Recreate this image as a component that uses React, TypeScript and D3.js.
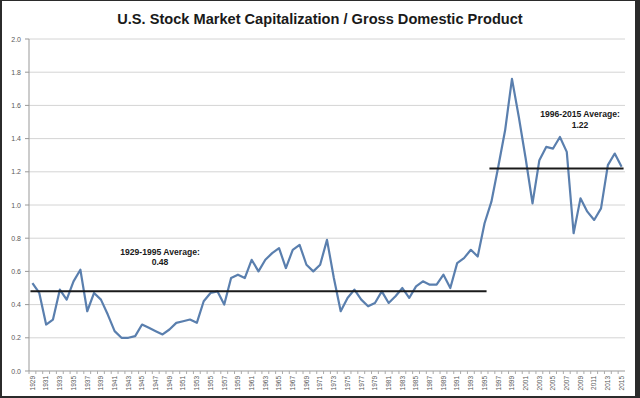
import React from "react";
import * as d3 from "d3";

const width = 640;
const height = 398;

const years = d3.range(1929, 2016);

// market cap / GDP
const ratio = [
  0.53, 0.47, 0.28, 0.31, 0.49, 0.43, 0.54, 0.61, 0.36, 0.47,
  0.43, 0.34, 0.24, 0.2, 0.2, 0.21, 0.28, 0.26, 0.24, 0.22,
  0.25, 0.29, 0.3, 0.31, 0.29, 0.42, 0.47, 0.48, 0.4, 0.56,
  0.58, 0.56, 0.67, 0.6, 0.67, 0.71, 0.74, 0.62, 0.73, 0.76,
  0.64, 0.6, 0.64, 0.79, 0.56, 0.36, 0.44, 0.49, 0.43, 0.39,
  0.41, 0.48, 0.41, 0.45, 0.5, 0.44, 0.51, 0.54, 0.52, 0.52,
  0.58, 0.5, 0.65, 0.68, 0.73, 0.69, 0.89, 1.02, 1.23, 1.45,
  1.76, 1.53, 1.28, 1.01, 1.27, 1.35, 1.34, 1.41, 1.32, 0.83,
  1.04, 0.96, 0.91, 0.98, 1.24, 1.31, 1.23,
];

const averages = [
  { from: 1929, to: 1995, value: 0.48, label: "1929-1995 Average:", text: "0.48" },
  { from: 1996, to: 2015, value: 1.22, label: "1996-2015 Average:", text: "1.22" },
];

const yTicks = [0, 0.2, 0.4, 0.6, 0.8, 1.0, 1.2, 1.4, 1.6, 1.8, 2.0];

const margin = { top: 39, right: 15, bottom: 27, left: 29 };

const x = d3
  .scaleBand<number>()
  .domain(years)
  .range([margin.left, width - margin.right]);

const y = d3
  .scaleLinear()
  .domain([0, 2])
  .range([height - margin.bottom, margin.top]);

const cx = (yr: number) => (x(yr) ?? 0) + x.bandwidth() / 2;

const line = d3
  .line<number>()
  .x((d, i) => cx(years[i]))
  .y((d) => y(d));

// annotation anchors (data units on y)
const labelPos = [
  { x: 160, y: 0.7 },
  { x: 580, y: 1.53 },
];

const App = () => {
  const font = "'Liberation Sans', Arial, sans-serif";
  const axisY = y(0);
  return (
    <svg
      width={width}
      height={height}
      style={{ position: "absolute", left: 0, top: 0 }}
      fontFamily={font}
    >
      <rect width={width} height={height} fill="#2b2b2b" />
      <rect x={2} y={1} width={633} height={395} fill="#ffffff" />
      <text
        x={320}
        y={24}
        textAnchor="middle"
        fontSize={14.6}
        fontWeight="bold"
        fill="#1a1a1a"
      >
        U.S. Stock Market Capitalization / Gross Domestic Product
      </text>

      {/* grid + y axis */}
      {yTicks.map((t) => (
        <g key={t}>
          {t > 0 && (
            <line
              x1={margin.left}
              x2={width - margin.right}
              y1={y(t)}
              y2={y(t)}
              stroke="#d4d4d4"
              strokeWidth={1}
            />
          )}
          <line x1={margin.left - 4} x2={margin.left} y1={y(t)} y2={y(t)} stroke="#999" />
          <text
            x={margin.left - 8}
            y={y(t) + 2.5}
            textAnchor="end"
            fontSize={7}
            fill="#595959"
          >
            {t.toFixed(1)}
          </text>
        </g>
      ))}
      <line x1={margin.left} x2={margin.left} y1={margin.top} y2={axisY} stroke="#999" />
      <line
        x1={margin.left}
        x2={width - margin.right}
        y1={axisY}
        y2={axisY}
        stroke="#999"
      />
      {years.map((yr) => (
        <line
          key={yr}
          x1={x(yr)}
          x2={x(yr)}
          y1={axisY}
          y2={axisY + 3}
          stroke="#aaa"
        />
      ))}
      {years
        .filter((yr) => (yr - 1929) % 2 === 0)
        .map((yr) => (
          <text
            key={yr}
            transform={`translate(${cx(yr) + 2.3},${axisY + 5}) rotate(-90)`}
            textAnchor="end"
            fontSize={6.5}
            fill="#595959"
          >
            {yr}
          </text>
        ))}

      <path
        d={line(ratio) ?? ""}
        fill="none"
        stroke="#5a7fae"
        strokeWidth={2.2}
        strokeLinejoin="round"
      />

      {averages.map((a, i) => (
        <g key={a.from}>
          <line
            x1={cx(a.from) - 2}
            x2={cx(a.to) + 2}
            y1={y(a.value)}
            y2={y(a.value)}
            stroke="#1a1a1a"
            strokeWidth={2}
          />
          <text
            x={labelPos[i].x}
            y={y(labelPos[i].y)}
            textAnchor="middle"
            fontSize={8.6}
            fontWeight="bold"
            fill="#1a1a1a"
          >
            {a.label}
          </text>
          <text
            x={labelPos[i].x}
            y={y(labelPos[i].y) + 10.5}
            textAnchor="middle"
            fontSize={8.6}
            fontWeight="bold"
            fill="#1a1a1a"
          >
            {a.text}
          </text>
        </g>
      ))}
    </svg>
  );
};

export default App;
